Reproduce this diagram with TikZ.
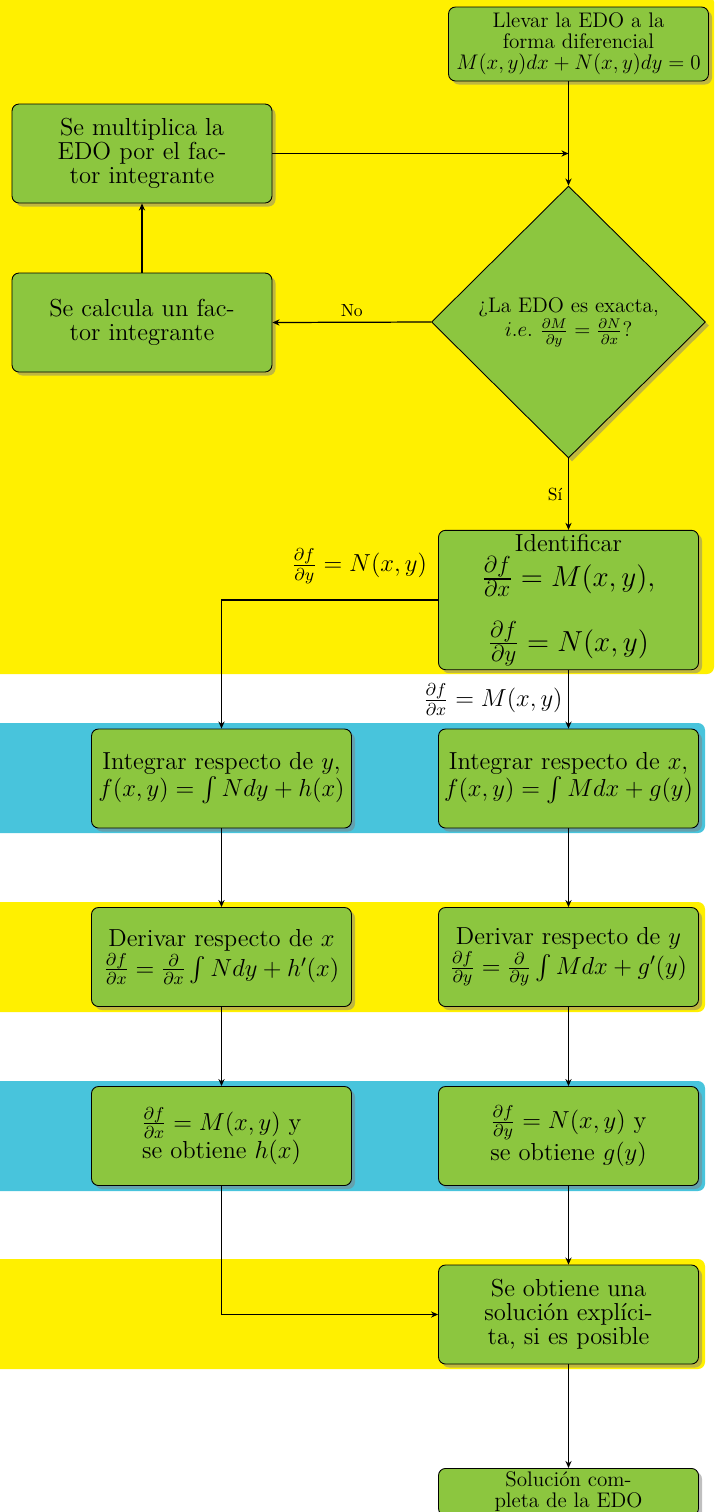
\RequirePackage{fix-cm}
\documentclass[tikz,border=0pt]{standalone}
\usepackage{amsmath,amssymb}
\usepackage{tikz}
\usetikzlibrary{arrows.meta,shapes.geometric,shadows}
\definecolor{amarillo}{RGB}{255,240,0}
\definecolor{cian}{RGB}{72,196,220}
\definecolor{verde}{RGB}{140,198,63}
\DeclareMathSizes{16.5}{16.5}{13.2}{10}

\begin{document}
\begin{tikzpicture}[
  caja/.style={draw=black, line width=0.5pt, fill=verde, rounded corners=4pt, align=center,
    drop shadow={shadow xshift=2pt,shadow yshift=-2pt,opacity=.5}, inner sep=2pt,
    minimum width=5.2cm, minimum height=1.98cm, font=\fontsize{14}{13.7}\selectfont},
  chica/.style={caja, minimum height=0pt, font=\fontsize{12}{12}\selectfont},
  rombo/.style={diamond, draw=black, line width=0.5pt, fill=verde, align=center, inner sep=0pt,
    minimum width=5.48cm, minimum height=5.44cm, font=\fontsize{12}{14}\selectfont,
    drop shadow={shadow xshift=2pt,shadow yshift=-2pt,opacity=.5}},
  flecha/.style={line width=0.7pt, -{Stealth[length=4pt,width=3.5pt]}},
  etiq/.style={font=\fontsize{10}{12}\selectfont, inner sep=1pt},
  etiqm/.style={font=\fontsize{14}{16}\selectfont, inner sep=1pt}]
\useasboundingbox (0,0) rectangle (14.3,-30.24);
  \foreach \ya/\yb/\xb/\col in {0.1/-13.48/14.28/amarillo, -14.46/-16.66/14.1/cian,
      -18.04/-20.24/14.1/amarillo, -21.62/-23.82/14.1/cian, -25.18/-27.38/14.1/amarillo}
    { \fill[\col, rounded corners=4pt] (-0.2,\ya) rectangle (\xb,\yb); }

  \node[chica, minimum height=1.48cm] (llevar) at (11.57,-0.88)
    {Llevar la EDO a la\\forma diferencial\\$M(x,y)dx+N(x,y)dy=0$};
  \node[caja] (multi) at (2.84,-3.07) {Se multiplica la\\EDO por el fac-\\tor integrante};
  \node[caja] (calcula) at (2.84,-6.45) {Se calcula un fac-\\tor integrante};
  \node[rombo] (exacta) at (11.37,-6.44)
    {¿La EDO es exacta,\\$i.e.\ \frac{\partial M}{\partial y}=\frac{\partial N}{\partial x}$?};
  \node[caja, minimum height=2.72cm] (ident) at (11.37,-12.0)
    {Identificar\\[2pt]{\fontsize{16.5}{18}\selectfont$\frac{\partial f}{\partial x}=M(x,y),$}\\[13pt]
     {\fontsize{16.5}{18}\selectfont$\frac{\partial f}{\partial y}=N(x,y)$}};

  \node[caja] (inty) at (4.43,-15.57) {Integrar respecto de $y$,\\$f(x,y)=\int N dy+h(x)$};
  \node[caja] (intx) at (11.37,-15.57) {Integrar respecto de $x$,\\$f(x,y)=\int M dx+g(y)$};
  \node[caja] (derx) at (4.43,-19.14)
    {Derivar respecto de $x$\\$\frac{\partial f}{\partial x}=\frac{\partial}{\partial x}\int N dy+h'(x)$};
  \node[caja] (dery) at (11.37,-19.14)
    {Derivar respecto de $y$\\$\frac{\partial f}{\partial y}=\frac{\partial}{\partial y}\int M dx+g'(y)$};
  \node[caja] (hx) at (4.43,-22.72) {$\frac{\partial f}{\partial x}=M(x,y)$ y\\se obtiene $h(x)$};
  \node[caja] (gy) at (11.37,-22.72) {$\frac{\partial f}{\partial y}=N(x,y)$ y\\se obtiene $g(y)$};
  \node[caja] (explicita) at (11.37,-26.29) {Se obtiene una\\solución explíci-\\ta, si es posible};
  \node[chica, anchor=north] (completa) at (11.37,-29.36) {Solución com-\\pleta de la EDO};

  \coordinate (bajada) at (llevar.south -| exacta.north);
  \coordinate (union) at (multi.east -| exacta.north);
  \draw[flecha] (bajada) -- (exacta.north);
  \draw[flecha] (multi.east) -- (union);
  \draw[flecha] (exacta.west) -- node[etiq, above=2pt] {No} (calcula.east);
  \draw[flecha] (calcula.north) -- (multi.south);
  \draw[flecha] (exacta.south) -- node[etiq, left=2pt] {Sí} (ident.north);
  \draw[flecha] (ident.west) -| node[etiqm, pos=0, anchor=south east, xshift=-5pt, yshift=8pt]
    {$\frac{\partial f}{\partial y}=N(x,y)$} (inty.north);
  \draw[flecha] (ident.south) -- node[etiqm, left=2pt] {$\frac{\partial f}{\partial x}=M(x,y)$} (intx.north);
  \draw[flecha] (inty) -- (derx);
  \draw[flecha] (derx) -- (hx);
  \draw[flecha] (intx) -- (dery);
  \draw[flecha] (dery) -- (gy);
  \draw[flecha] (hx.south) |- (explicita.west);
  \draw[flecha] (gy) -- (explicita);
  \draw[flecha] (explicita) -- (completa);
\end{tikzpicture}
\end{document}
